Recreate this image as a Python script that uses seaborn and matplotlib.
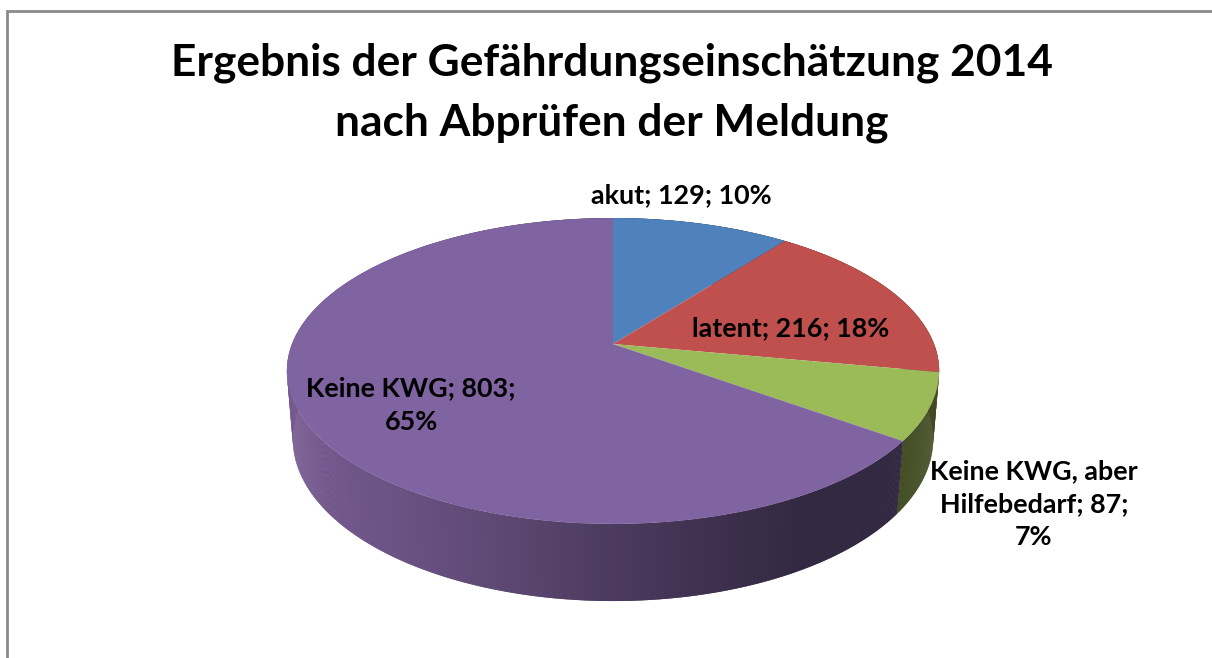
"""3D-looking pie: Ergebnis der Gefaehrdungseinschaetzung 2014."""

import numpy as np
import matplotlib
matplotlib.use("Agg")
import matplotlib.pyplot as plt
import seaborn as sns
from matplotlib.collections import PolyCollection
from matplotlib.colors import to_rgb
from matplotlib.transforms import Transform

TITLE = "Ergebnis der Gefährdungseinschätzung 2014\nnach Abprüfen der Meldung"
categories = ["akut", "latent", "Keine KWG, aber Hilfebedarf", "Keine KWG"]
values = [129, 216, 87, 803]
percents = [10, 18, 7, 65]
top_colors = ["#4f81bd", "#c0504d", "#9bbb59", "#8064a2"]
side_colors = ["#2a4364", "#662a28", "#414c22", None]

# horizontal shading of the purple rim, screen x -> colour
shade_x = [295, 400, 500, 600, 700, 800, 930]
shade_c = ["#75598f", "#6a5283", "#5d4873", "#4d3c61", "#403150", "#342943", "#322840"]

W, H = 1212, 658


class Perspective(Transform):
    """Unit circle to screen pixels, with the far edge shrunk."""
    input_dims = output_dims = 2

    def __init__(self, drop=0.0, extra=0.0):
        super().__init__()
        self.drop = drop
        self.extra = extra

    def transform_non_affine(self, pts):
        pts = np.asarray(pts, dtype=float)
        w = 1 + 0.1765 * pts[:, 1] + self.extra
        x = 613 + 321 * pts[:, 0] / w
        y = 344 - (148.2 * pts[:, 1] - self.drop) / w
        return np.column_stack([x, y])


def rim_color(x, base):
    if base is not None:
        return to_rgb(base)
    rgb = np.array([to_rgb(c) for c in shade_c])
    return tuple(np.interp(x, shade_x, rgb[:, i]) for i in range(3))


def draw_rim(ax, top, bottom):
    edges = np.cumsum([0] + values) / sum(values) * 2 * np.pi
    polys, colors = [], []
    for start, stop, base in zip(edges[:-1], edges[1:], side_colors):
        steps = max(int((stop - start) * 300), 2)
        angles = np.linspace(start, stop, steps + 1)
        circle = np.column_stack([np.sin(angles), np.cos(angles)])
        upper = top.transform_non_affine(circle)
        lower = bottom.transform_non_affine(circle)
        for i in range(steps):
            # each strip runs over the next one so no seams show
            j = min(i + 2, steps)
            polys.append([upper[i], upper[j], lower[j], lower[i]])
            colors.append(rim_color(upper[i:i + 2, 0].mean(), base))
    ax.add_collection(PolyCollection(polys, facecolors=colors, edgecolors="none",
                                     linewidths=0, zorder=1))


def main():
    sns.set_theme(style="white")
    plt.rcParams["font.family"] = ["Lato", "DejaVu Sans"]

    fig = plt.figure(figsize=(W / 100, H / 100), dpi=100, facecolor="white")
    ax = fig.add_axes([0, 0, 1, 1])

    wedges, _ = ax.pie(values, colors=sns.color_palette(top_colors), startangle=90,
                       counterclock=False, wedgeprops={"linewidth": 0})
    ax.set_aspect("auto")
    ax.set_xlim(0, W)
    ax.set_ylim(H, 0)
    ax.axis("off")

    top = Perspective()
    bottom = Perspective(drop=68.1, extra=0.018)
    draw_rim(ax, top, bottom)
    for wedge in wedges:
        wedge.set_transform(top + ax.transData)
        wedge.set_zorder(2)

    # chart frame, cut off by the image on the right and at the bottom
    ax.plot([7, 7, W], [H, 11, 11], color="#8a8a8a", lw=2, solid_joinstyle="miter", zorder=0)

    ax.text(612, 93, TITLE, ha="center", va="center", fontsize=31.9, fontweight="bold",
            color="black", linespacing=1.58)

    labels = [f"{c}; {v}; {p}%" for c, v, p in zip(categories, values, percents)]
    label_style = dict(ha="center", va="center", fontsize=19.4, fontweight="bold",
                       color="black", linespacing=1.45, zorder=3)
    ax.text(681, 195, labels[0], **label_style)
    ax.text(791, 328, labels[1], **label_style)
    ax.text(1034, 504, "Keine KWG, aber\nHilfebedarf; 87;\n7%", **label_style)
    ax.text(411, 405, "Keine KWG; 803;\n65%", **label_style)

    fig.savefig("out.png", dpi=100, facecolor="white")


if __name__ == "__main__":
    main()
